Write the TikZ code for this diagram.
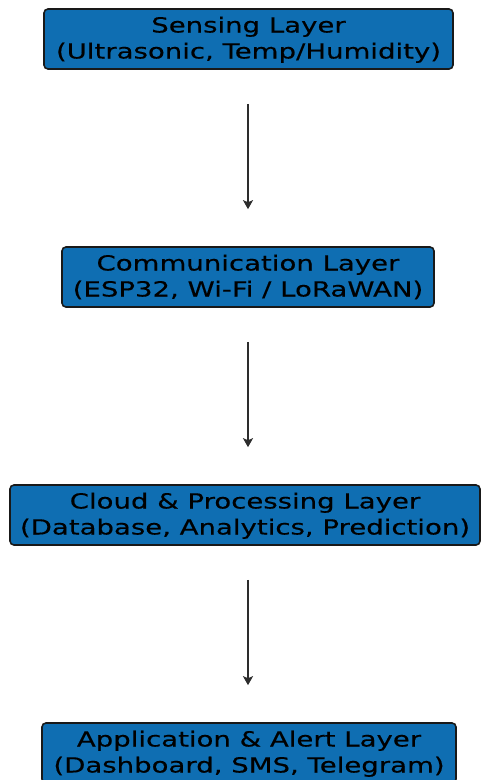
\documentclass[tikz,border=0pt]{standalone}
\usepackage{fontspec}
\newfontfamily\layerfont[FakeStretch=1.325,FakeBold=0.4]{DejaVu Sans}
\usetikzlibrary{arrows.meta}
\definecolor{layerblue}{RGB}{15,110,178}
\definecolor{arrowgray}{RGB}{45,45,45}
\tikzset{
  layerbox/.style={draw=black!90, line width=1.6pt, fill=layerblue, rounded corners=4pt,
    minimum height=60pt, inner sep=0pt, align=center, text=black,
    font=\layerfont\fontsize{20.8pt}{26pt}\selectfont,
    text height=41pt, text depth=2pt},
  flowarrow/.style={draw=arrowgray, line width=2.2pt,
    -{Stealth[length=9pt,width=10pt,inset=2pt]}, shorten <=34pt, shorten >=37pt}
}
\begin{document}
\begin{tikzpicture}[x=1pt,y=-1pt]
\useasboundingbox (0,0) rectangle (481,780);
\clip (0,0) rectangle (481,780);
\node[layerbox, minimum width=409pt] (sense) at (248.5,39) {Sensing Layer\\(Ultrasonic, Temp/Humidity)};
\node[layerbox, minimum width=372pt] (comm) at (248,277) {Communication Layer\\(ESP32, Wi-Fi / LoRaWAN)};
\node[layerbox, minimum width=470pt] (cloud) at (245,515) {Cloud \& Processing Layer\\(Database, Analytics, Prediction)};
\node[layerbox, minimum width=414pt] (app) at (249,753) {Application \& Alert Layer\\(Dashboard, SMS, Telegram)};
\coordinate (ax) at (248,0);
\draw[flowarrow] (ax |- sense.south) -- (ax |- comm.north);
\draw[flowarrow] (ax |- comm.south) -- (ax |- cloud.north);
\draw[flowarrow] (ax |- cloud.south) -- (ax |- app.north);
\end{tikzpicture}
\end{document}
